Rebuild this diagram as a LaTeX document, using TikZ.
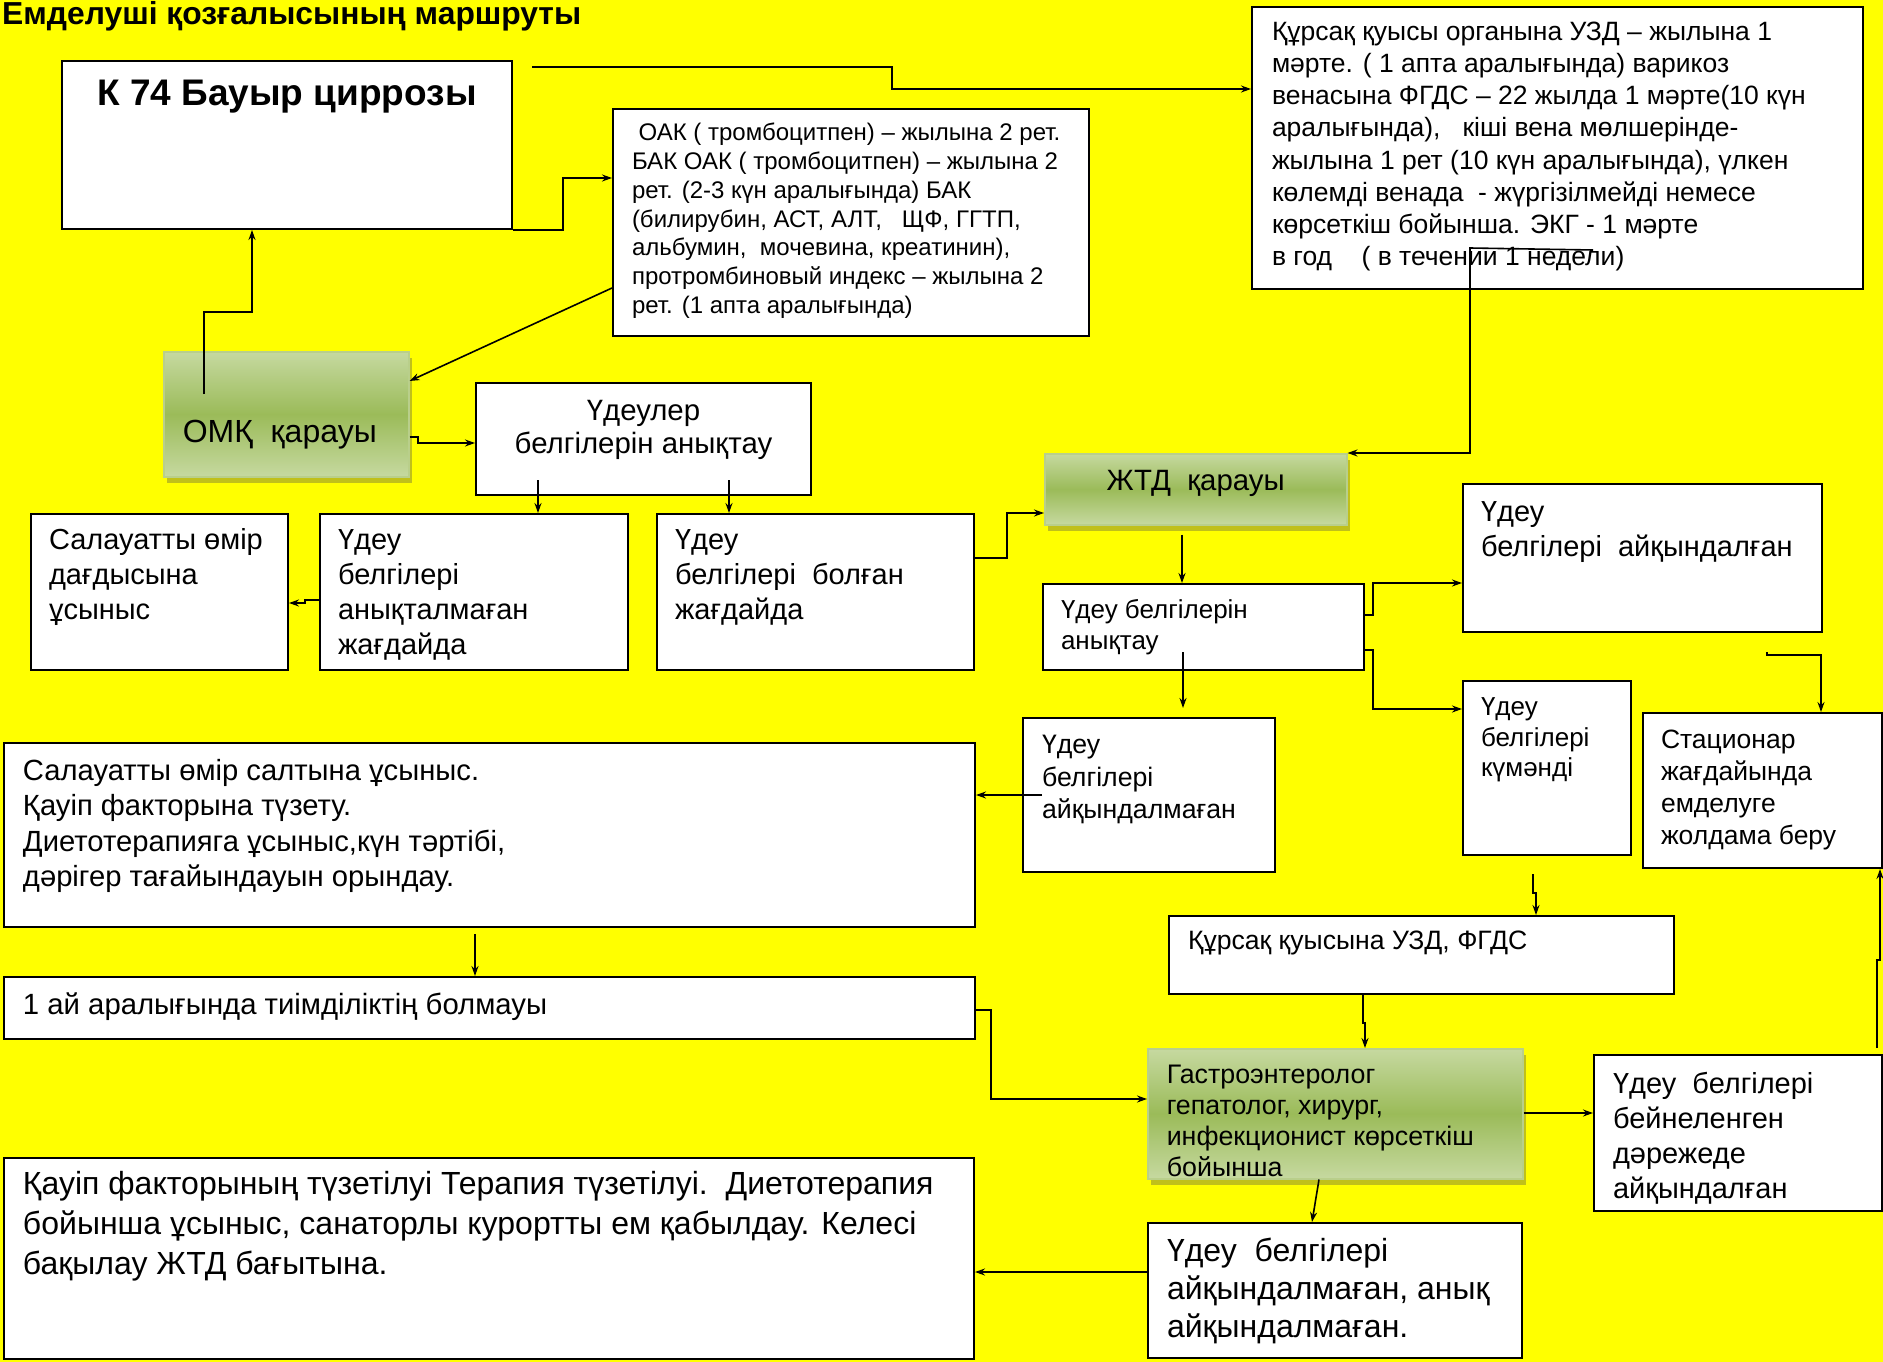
\documentclass[tikz,border=0pt]{standalone}
\usepackage{fontspec}
\setmainfont{Liberation Sans}
\usetikzlibrary{arrows.meta,shadows,calc}

\definecolor{bgyellow}{RGB}{255,255,0}
\definecolor{grnlight}{RGB}{198,217,160}
\definecolor{grndark}{RGB}{155,187,89}

\newcommand{\boxtxt}[5][l]{%
  \begin{minipage}[t][#3][t]{#2}\vspace*{#4}%
  \makebox[\linewidth][#1]{\begin{tabular}[t]{@{}#1@{}}#5\end{tabular}}%
  \end{minipage}}

\tikzset{
  box/.style={draw, line width=2pt, fill=white, anchor=north west,
    inner ysep=0pt, inner xsep=#1},
  box/.default=18pt,
  greenbox/.style={draw=grndark!70!white, line width=1.5pt, anchor=north west,
    inner ysep=0pt, inner xsep=#1, top color=grnlight, bottom color=grnlight,
    middle color=grndark,
    drop shadow={shadow xshift=3pt, shadow yshift=-6pt, opacity=0.35, fill=black!70}},
  greenbox/.default=18pt,
  arr/.style={line width=1.6pt, -{Stealth[length=10pt,width=7pt]}}
}

\begin{document}
\begin{tikzpicture}[x=1pt,y=-1pt]
  \fill[bgyellow] (0,0) rectangle (1883,1362);
  \useasboundingbox (0,0) rectangle (1883,1362);

  \node[anchor=base west, inner sep=0pt, font=\bfseries\fontsize{31.8}{36}\selectfont] (title) at (2,25)
    {Емделуші қозғалысының маршруты};

  \node[box=0pt, font=\bfseries\fontsize{37}{42}\selectfont] (k74) at (61,60)
    {\boxtxt[c]{450pt}{168pt}{15.6pt}{К 74 Бауыр циррозы}};

  \node[box=19pt, font=\fontsize{24}{28.9}\selectfont] (oak) at (612,108)
    {\boxtxt{438pt}{227pt}{11.1pt}{~ОАК ( тромбоцитпен) – жылына 2 рет.\\
     БАК ОАК ( тромбоцитпен) – жылына 2\\
     рет. (2-3 күн аралығында) БАК\\
     (билирубин, АСТ, АЛТ,~~~ЩФ, ГГТП,\\
     альбумин,~~мочевина, креатинин),\\
     протромбиновый индекс – жылына 2\\
     рет. (1 апта аралығында)}};

  \node[box=20pt, font=\fontsize{26.5}{32.2}\selectfont] (usd) at (1251,6)
    {\boxtxt{571pt}{282pt}{10.8pt}{Құрсақ қуысы органына УЗД – жылына 1\\
     мәрте. ( 1 апта аралығында) варикоз\\
     венасына ФГДС – 22 жылда 1 мәрте(10 күн\\
     аралығында),~~~кіші вена мөлшерінде-\\
     жылына 1 рет (10 күн аралығында), үлкен\\
     көлемді венада~~- жүргізілмейді немесе\\
     көрсеткіш бойынша. ЭКГ - 1 мәрте\\
     в год~~~~( в течении 1 недели)}};

  \node[greenbox=19pt, font=\fontsize{32}{36}\selectfont] (omk) at (163,351)
    {\boxtxt{207pt}{125pt}{65.4pt}{ОМҚ~~қарауы}};

  \node[box=0pt, font=\fontsize{29.4}{33}\selectfont] (udeuler) at (475,382)
    {\boxtxt[c]{335pt}{112pt}{13.9pt}{Үдеулер\\белгілерін анықтау}};

  \node[box, font=\fontsize{29}{35}\selectfont] (salau) at (30,513)
    {\boxtxt{221pt}{156pt}{10.5pt}{Салауатты өмір\\дағдысына\\ұсыныс}};
  \node[box, font=\fontsize{29}{35}\selectfont] (notdet) at (319,513)
    {\boxtxt{272pt}{156pt}{10.5pt}{Үдеу\\белгілері\\анықталмаған\\жағдайда}};
  \node[box, font=\fontsize{29}{35}\selectfont] (found) at (656,513)
    {\boxtxt{281pt}{156pt}{10.5pt}{Үдеу\\белгілері~~болған\\жағдайда}};

  \node[greenbox=0pt, font=\fontsize{29.4}{34}\selectfont] (jtd) at (1044,453)
    {\boxtxt[c]{302pt}{71pt}{13.2pt}{ЖТД~~қарауы}};

  \node[box, font=\fontsize{26}{31}\selectfont] (anyk) at (1042,583)
    {\boxtxt{285pt}{86pt}{12.3pt}{Үдеу белгілерін\\анықтау}};
  \node[box, font=\fontsize{29}{35}\selectfont] (aiq) at (1462,483)
    {\boxtxt{323pt}{148pt}{12.5pt}{Үдеу\\белгілері~~айқындалған}};
  \node[box, font=\fontsize{26}{30.5}\selectfont] (kumandi) at (1462,680)
    {\boxtxt{132pt}{174pt}{13.6pt}{Үдеу\\белгілері\\күмәнді}};
  \node[box, font=\fontsize{26.5}{32}\selectfont] (stat) at (1642,712)
    {\boxtxt{203pt}{155pt}{12.6pt}{Стационар\\жағдайында\\емделуге\\жолдама беру}};
  \node[box=19pt, font=\fontsize{26.7}{32.5}\selectfont] (notfound) at (1022,717)
    {\boxtxt{214pt}{154pt}{13.2pt}{Үдеу\\белгілері\\айқындалмаған}};

  \node[box=19pt, font=\fontsize{29.2}{35.5}\selectfont] (big1) at (3,742)
    {\boxtxt{933pt}{184pt}{12.2pt}{Салауатты өмір салтына ұсыныс.\\
     Қауіп факторына түзету.\\
     Диетотерапияга ұсыныс,күн тәртібі,\\
     дәрігер тағайындауын орындау.}};
  \node[box=19pt, font=\fontsize{29.3}{35}\selectfont] (once) at (3,976)
    {\boxtxt{933pt}{62pt}{12.5pt}{1 ай аралығында тиімділіктің болмауы}};
  \node[box=19pt, font=\fontsize{32}{40}\selectfont] (big2) at (3,1157)
    {\boxtxt{932pt}{201pt}{8pt}{Қауіп факторының түзетілуі Терапия түзетілуі.~~Диетотерапия\\
     бойынша ұсыныс, санаторлы курортты ем қабылдау. Келесі\\
     бақылау ЖТД бағытына.}};

  \node[box=19pt, font=\fontsize{26.6}{31}\selectfont] (uzi) at (1168,915)
    {\boxtxt{467pt}{78pt}{11.3pt}{Құрсақ қуысына УЗД, ФГДС}};
  \node[greenbox=19pt, font=\fontsize{26.8}{31}\selectfont] (gastro) at (1147,1048)
    {\boxtxt{337pt}{130pt}{13.3pt}{Гастроэнтеролог\\гепатолог, хирург,\\инфекционист көрсеткіш\\бойынша}};
  \node[box=19pt, font=\fontsize{29}{35}\selectfont] (bein) at (1593,1054)
    {\boxtxt{250pt}{156pt}{13.5pt}{Үдеу~~белгілері\\бейнеленген\\дәрежеде\\айқындалған}};
  \node[box=19pt, font=\fontsize{32}{38}\selectfont] (bottom) at (1147,1222)
    {\boxtxt{336pt}{135pt}{11.4pt}{Үдеу~~белгілері\\айқындалмаған, анық\\айқындалмаған.}};

  \coordinate (k74out) at (532,67);
  \draw[arr] (k74out) -- (892,67) -- (892,89) -- (usd.west |- 0,89);
  \draw[arr] (k74.south east) -| (563,178) -- (oak.west |- 0,178);
  \draw[arr] (oak.west |- 0,288) -- (omk.east |- 0,381);
  \draw[arr] ($(omk.north west)+(41,43)$) |- (252,312) -- (k74.south -| 252,0);
  \draw[arr] (omk.east |- 0,437) -- (418,437) -- (418,443) -- (udeuler.west |- 0,443);
  \draw[arr] ($(udeuler.south -| 538,0)+(0,-16)$) -- (notdet.north -| 538,0);
  \draw[arr] ($(udeuler.south -| 729,0)+(0,-16)$) -- (found.north -| 729,0);
  \draw[arr] (notdet.west |- 0,600) -- (305,600) -- (305,603) -- (salau.east |- 0,603);
  \draw[arr] (found.east |- 0,558) -- (1007,558) -- (1007,513) -- (jtd.west |- 0,513);
  \draw[arr] ($(usd.south -| 1593,0)+(0,-40)$) -- (1470,248) -- (1470,453) -- (jtd.north east);
  \draw[arr] ($(jtd.south -| 1182,0)+(0,9)$) -- (anyk.north -| 1182,0);
  \draw[arr] ($(anyk.south -| 1183,0)+(0,-19)$) -- ($(notfound.north -| 1183,0)+(0,-9)$);
  \draw[arr] (anyk.east |- 0,615) -- (1373,615) -- (1373,583) -- (aiq.west |- 0,583);
  \draw[arr] (anyk.east |- 0,650) -- (1373,650) -- (1373,709) -- (kumandi.west |- 0,709);
  \draw[arr] ($(aiq.south -| 1767,0)+(0,19)$) -- (1767,655) -- (1821,655) -- (stat.north -| 1821,0);
  \draw[arr] ($(kumandi.south -| 1533,0)+(0,18)$) -- (1533,893) -- (1536,893) -- (uzi.north -| 1536,0);
  \draw[arr] ($(notfound.west |- 0,795)+(20,0)$) -- (big1.east |- 0,795);
  \draw[arr] ($(big1.south -| 475,0)+(0,6)$) -- (once.north -| 475,0);
  \draw[arr] (once.east |- 0,1010) -- (991,1010) -- (991,1099) -- (gastro.west |- 0,1099);
  \draw[arr] (uzi.south -| 1363,0) -- (1363,1023) -- (1365,1023) -- (gastro.north -| 1365,0);
  \draw[arr] (gastro.east |- 0,1113) -- (bein.west |- 0,1113);
  \draw[arr] ($(bein.north -| 1877,0)+(0,-6)$) -- (1877,960) -- (1880,960) -- (stat.south -| 1880,0);
  \draw[arr] (gastro.south -| 1319,0) -- (bottom.north -| 1312,0);
  \draw[arr] (bottom.west |- 0,1272) -- (big2.east |- 0,1272);
\end{tikzpicture}
\end{document}
